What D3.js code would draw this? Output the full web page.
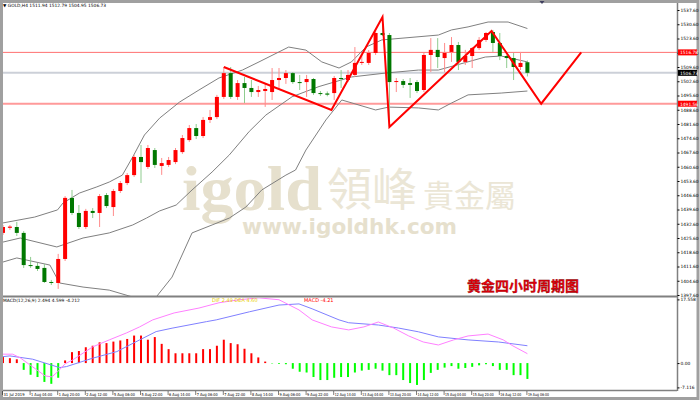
<!DOCTYPE html>
<html><head><meta charset="utf-8">
<script src="https://cdn.jsdelivr.net/npm/d3@7"></script>
<style>html,body{margin:0;padding:0;background:#fff;overflow:hidden}</style>
</head><body><svg id="c" width="700" height="401"></svg>
<script>
// ---------- DATA ----------
const timeLabels = ["31 Jul 2019","1 Aug 04:00","1 Aug 20:00","2 Aug 12:00","5 Aug 06:00","5 Aug 22:00","6 Aug 14:00","7 Aug 06:00","7 Aug 22:00","8 Aug 14:00","9 Aug 06:00","9 Aug 22:00","12 Aug 14:00","13 Aug 04:00","13 Aug 20:00","14 Aug 12:00","15 Aug 04:00","15 Aug 20:00","16 Aug 12:00","19 Aug 06:00"];
const opens = [1428.1,1430.6,1431.0,1428.1,1412.3,1411.9,1410.9,1404.0,1403.5,1415.3,
1445.3,1437.9,1431.0,1438.9,1437.9,1446.7,1440.8,1448.7,1452.6,1456.5,
1465.4,1460.5,1468.8,1461.0,1461.5,1462.9,1467.8,1473.7,1479.6,1475.7,
1483.6,1485.0,1494.9,1506.6,1494.9,1501.7,1499.3,1497.3,1497.8,1497.3,
1503.2,1504.2,1506.6,1502.2,1502.2,1503.7,1496.8,1496.6,1496.8,1504.2,
1503.2,1505.7,1511.6,1511.6,1516.5,1526.3,1525.3,1502.2,1502.7,1501.7,
1502.2,1498.3,1515.5,1518.0,1514.0,1517.0,1520.4,1512.1,1515.0,1518.9,
1522.9,1526.8,1521.4,1515.0,1514.0,1509.6,1511.94];
const highs = [1432.0,1432.0,1433.5,1429.0,1416.3,1413.3,1412.8,1405.0,1417.8,1446.2,
1449.2,1441.8,1439.9,1440.3,1447.2,1447.7,1449.7,1453.6,1457.5,1466.4,
1471.3,1471.3,1469.8,1464.9,1465.4,1469.8,1476.2,1481.1,1481.6,1485.0,
1488.5,1495.9,1509.6,1509.6,1503.2,1504.7,1503.2,1500.3,1501.7,1509.1,
1509.1,1508.1,1507.1,1505.7,1505.7,1504.2,1497.8,1497.6,1505.2,1508.1,
1508.1,1519.4,1515.5,1517.9,1527.8,1534.2,1526.3,1504.2,1503.7,1504.2,
1503.2,1516.5,1523.8,1523.8,1521.4,1524.3,1521.9,1518.0,1519.4,1524.3,
1526.8,1527.8,1526.3,1515.5,1516.5,1517.0,1512.79];
const lows = [1427.1,1429.6,1426.6,1410.9,1410.9,1409.4,1403.5,1402.5,1400.6,1414.3,
1436.9,1430.0,1430.0,1435.4,1431.0,1440.3,1436.4,1447.7,1451.6,1455.6,
1452.6,1459.5,1460.0,1456.6,1460.5,1461.9,1466.9,1472.8,1474.2,1474.7,
1482.1,1484.0,1493.9,1493.9,1493.4,1491.9,1494.9,1494.9,1490.0,1493.4,
1498.3,1501.3,1501.3,1498.3,1494.9,1495.9,1495.4,1495.2,1493.4,1499.3,
1502.2,1504.7,1510.6,1510.6,1515.5,1524.8,1480.1,1497.3,1499.3,1494.4,
1496.8,1497.3,1507.1,1509.1,1507.1,1512.1,1508.1,1510.6,1509.1,1518.0,
1521.9,1517.0,1513.0,1509.1,1503.2,1508.1,1504.95];
const closes = [1431.0,1431.2,1428.1,1412.3,1412.0,1410.4,1404.0,1403.6,1415.3,1445.3,
1437.9,1431.0,1438.9,1437.9,1446.2,1441.3,1448.7,1452.6,1456.5,1465.4,
1462.9,1469.8,1461.5,1462.4,1463.9,1468.8,1474.7,1479.6,1475.7,1483.6,
1485.0,1494.9,1506.6,1494.9,1501.7,1499.3,1497.3,1498.3,1498.8,1503.2,
1504.2,1506.6,1502.2,1501.7,1503.7,1496.8,1496.3,1496.0,1504.2,1503.7,
1505.7,1511.6,1512.1,1516.5,1526.3,1525.3,1502.2,1502.7,1500.8,1500.8,
1497.8,1515.5,1518.0,1514.5,1516.5,1520.4,1512.1,1515.0,1518.9,1522.9,
1526.3,1521.4,1515.0,1514.0,1509.6,1511.6,1506.73];
// Bollinger bands: [bar index, price]
const bbUpper = [[0,1433.0],[4.6,1435.9],[7.9,1439.4],[8.7,1442.8],[11.1,1447.7],[13.6,1450.7],[15.4,1453.1],[17.3,1456.5],[18.8,1465.4],[20.5,1476.2],[22.7,1484.5],[25.6,1492.4],[28.4,1498.3],[31.3,1504.2],[34.7,1508.1],[37.1,1512.1],[41.4,1519.4],[43.9,1517.9],[46.2,1512.1],[48.7,1509.1],[50.5,1512.1],[52.6,1519.4],[54.9,1522.9],[63.1,1525.3],[65,1527.8],[67.4,1529.3],[70.3,1531.7],[73.2,1531.7],[76,1528.5]];
const bbMiddle = [[0,1423.6],[2.5,1425.6],[7.8,1421.2],[11.6,1425.6],[15.4,1428.1],[18.8,1432.0],[20.8,1435.4],[22.7,1438.9],[25.1,1441.8],[27.4,1449.2],[30.3,1458.0],[32.8,1466.4],[35.7,1478.0],[38.1,1486.0],[41.9,1495.0],[45.8,1500.0],[50.5,1504.7],[55.4,1506.6],[60.2,1508.1],[63.1,1508.1],[69.9,1514.5],[72.2,1515.0],[76,1512.1]];
const bbLower = [[0,1413.8],[2,1415.8],[6.8,1412.3],[8.2,1403.5],[11.6,1401.5],[15.4,1400.0],[18.8,1396.6],[20.5,1394.2],[22.2,1396.6],[24.5,1406.4],[27.4,1428.1],[30.3,1432.0],[32.8,1435.4],[35.2,1440.8],[37.5,1449.2],[41,1456.5],[42.4,1459.0],[43.9,1468.8],[46.8,1483.6],[49.1,1493.4],[54,1488.5],[55.9,1489.9],[60.2,1489.5],[63.1,1488.5],[65,1491.9],[67.4,1495.9],[72.2,1496.8],[76,1497.8]];
// zigzag / hand drawn wave lines: [bar index, price]
const waveLine = [[32,1509.6],[47.6,1488.5],[55,1534.2],[56,1480.1],[70.8,1527.3],[78,1491.56],[83.8,1516.78]];
const levels = [1516.78, 1506.73, 1491.56];
const priceTicks = d3.range(0,21).map(k => 1537.6 - 7*k);
// MACD
const macdHist = [1.6,1.3,1.0,-1.8,-3.1,-3.7,-5.0,-5.5,-3.9,0.7,
2.9,3.2,4.2,4.6,5.5,5.3,5.7,6.0,6.4,7.3,
7.3,6.2,6.9,5.1,3.7,2.6,2.6,2.6,2.6,3.7,
3.7,4.6,6.2,5.3,5.0,3.8,2.6,1.5,0.4,-0.1,
-0.2,-0.3,-1.5,-2.3,-2.5,-3.7,-4.5,-4.5,-3.9,-3.7,
-3.7,-2.5,-2.0,-1.8,-1.5,-2.0,-3.2,-3.2,-4.5,-5.3,
-5.8,-4.5,-2.6,-1.8,-1.2,-0.8,-1.5,-1.3,-1.0,-0.6,
-0.3,-0.8,-1.8,-1.8,-3.2,-3.2,-4.21];
const macdDif = [[0,2.36],[1.4,2.36],[2.5,1.38],[4.3,-1.0],[6.1,-3.4],[7.1,-3.66],[7.9,-2.33],[9,-0.2],[10.1,0.85],[13,4.3],[15.4,6.15],[17.9,8.0],[19.8,9.6],[21.7,11.46],[24.8,13.3],[28.4,14.6],[31.3,16.0],[34.2,16.8],[37.1,17.3],[40,16.8],[42.9,14.1],[44.8,11.46],[47.6,9.6],[50.1,8.8],[52.3,9.6],[54.4,10.9],[56.6,9.3],[58.8,7.2],[60.9,5.6],[63.1,4.8],[65.3,6.15],[67.4,7.2],[70.3,7.7],[72.5,6.15],[73.9,4.56],[76,2.494]];
const macdDea = [[0,1.72],[1,1.9],[4.3,1.03],[8.2,-1.2],[9.2,-0.93],[13,1.3],[16.5,3.05],[19.8,6.15],[22.2,8.36],[24.5,9.26],[29.5,11.0],[30.9,11.46],[35.7,13.6],[40,15.4],[42.9,15.7],[44.8,14.4],[48.7,11.46],[50.1,10.7],[54.4,10.1],[57.3,9.3],[60.2,8.3],[63.1,6.95],[67.4,6.15],[71.8,5.6],[76,4.599]];
const macdTicks = [17.558, 0, -7.116];

// ---------- LAYOUT ----------
const svg = d3.select("#c");
const L = 3, R = 677, T = 3, MB = 296, ST = 297, SB = 390;
const x = d3.scaleLinear().domain([0, 76]).range([3, 527.4]);
const y = d3.scaleLinear().domain([1397.6, 1537.6]).range([295, 10]);
const ym = d3.scaleLinear().domain([-7.116, 17.558]).range([389.9, 296.9]);

svg.append("rect").attr("width",700).attr("height",401).attr("fill","#fff");

const defs = svg.append("defs");
defs.append("clipPath").attr("id","cm").append("rect").attr("x",L).attr("y",T).attr("width",R-L).attr("height",MB-T);
defs.append("clipPath").attr("id","cs").append("rect").attr("x",L).attr("y",ST+1).attr("width",R-L).attr("height",SB-ST-1);

// watermark
const wm = svg.append("g").attr("fill","#e6e0cd");
wm.append("text").attr("x",182).attr("y",210).attr("font-family","Liberation Serif").attr("font-weight","bold").attr("font-size",64).attr("textLength",140).attr("lengthAdjust","spacingAndGlyphs").text("igold");
wm.append("text").attr("x",327).attr("y",206).attr("font-family","Noto Sans CJK TC").attr("font-size",45).attr("fill","#ebe6d6").text("領峰");
wm.append("text").attr("x",423).attr("y",207).attr("font-family","Noto Sans CJK TC").attr("font-size",31).attr("fill","#ebe6d6").text("貴金屬");
wm.append("text").attr("x",242).attr("y",234).attr("font-family","DejaVu Sans").attr("font-weight","bold").attr("font-size",21).attr("textLength",215).attr("lengthAdjust","spacingAndGlyphs").text("www.igoldhk.com");

const main = svg.append("g").attr("clip-path","url(#cm)");
// horizontal level lines
main.append("line").attr("x1",L).attr("x2",R).attr("y1",y(levels[0])).attr("y2",y(levels[0])).attr("stroke","#ff7070").attr("stroke-width",1);
main.append("line").attr("x1",L).attr("x2",R).attr("y1",y(levels[1])).attr("y2",y(levels[1])).attr("stroke","#ccd0d8").attr("stroke-width",2);
main.append("line").attr("x1",L).attr("x2",R).attr("y1",y(levels[2])).attr("y2",y(levels[2])).attr("stroke","#ff9a9a").attr("stroke-width",2);

// bollinger
const bl = d3.line().x(d => x(d[0])).y(d => y(d[1]));
[bbUpper, bbMiddle, bbLower].forEach(b => main.append("path").attr("d", bl(b)).attr("fill","none").attr("stroke","#808080").attr("stroke-width",1));

// candles
const idx = d3.range(opens.length);
const up = i => closes[i] >= opens[i];
main.selectAll("line.wick").data(idx).join("line").attr("class","wick")
  .attr("x1", i => x(i)).attr("x2", i => x(i)).attr("y1", i => y(highs[i])).attr("y2", i => y(lows[i]))
  .attr("stroke", i => up(i) ? "#ff8c8c" : "#8fcc8f").attr("stroke-width",1);
main.selectAll("rect.body").data(idx).join("rect").attr("class","body")
  .attr("x", i => x(i) - 2).attr("width", 4)
  .attr("y", i => y(Math.max(opens[i], closes[i])))
  .attr("height", i => Math.max(1, Math.abs(y(opens[i]) - y(closes[i]))))
  .attr("fill", i => up(i) ? "#ff0000" : "#007800");

// wave lines
main.append("path").attr("d", bl(waveLine)).attr("fill","none").attr("stroke","#ff0000").attr("stroke-width",2);

// title
svg.append("text").attr("x",467).attr("y",291).attr("font-family","Noto Sans CJK SC").attr("font-weight","bold").attr("font-size",14)
  .attr("fill","#e8000b").attr("stroke","#7a0000").attr("stroke-width",0.3).text("黄金四小时周期图");

// MACD
const sub = svg.append("g").attr("clip-path","url(#cs)");
sub.selectAll("rect.h").data(idx).join("rect").attr("class","h")
  .attr("x", i => x(i) - 1).attr("width", 2)
  .attr("y", i => Math.min(ym(0), ym(macdHist[i])))
  .attr("height", i => Math.abs(ym(macdHist[i]) - ym(0)))
  .attr("fill", i => macdHist[i] >= 0 ? "#ff0000" : "#00ff00");
const ml = d3.line().x(d => x(d[0])).y(d => ym(d[1]));
sub.append("path").attr("d", ml(macdDea)).attr("fill","none").attr("stroke","#8080ff").attr("stroke-width",1);
sub.append("path").attr("d", ml(macdDif)).attr("fill","none").attr("stroke","#ff80ff").attr("stroke-width",1);

// frames
svg.append("rect").attr("x",1.5).attr("y",1.5).attr("width",696.5).attr("height",397).attr("fill","none").attr("stroke","#a0a0a0").attr("stroke-width",3);
svg.append("line").attr("x1",L).attr("x2",R).attr("y1",296.5).attr("y2",296.5).attr("stroke","#808080").attr("stroke-width",2);
svg.append("line").attr("x1",L).attr("x2",R).attr("y1",390.5).attr("y2",390.5).attr("stroke","#808080").attr("stroke-width",1.5);
svg.append("line").attr("x1",R+0.5).attr("x2",R+0.5).attr("y1",T).attr("y2",391).attr("stroke","#808080").attr("stroke-width",1.5);

// right price axis
const ax = svg.append("g").attr("transform",`translate(${R+0.5},0)`)
  .call(d3.axisRight(y).tickValues(priceTicks).tickFormat(d3.format(".2f")).tickSize(2).tickPadding(1));
ax.select(".domain").remove();
ax.selectAll("text").attr("font-size",4.4).attr("font-family","DejaVu Sans").attr("fill","#000");
ax.selectAll("line").attr("stroke","#000");
// level labels
const lvColors = ["#ff0000","#000000","#ff0000"];
levels.forEach((v,k) => {
  const g = svg.append("g").attr("transform",`translate(${R+1},${y(v)})`);
  g.append("rect").attr("x",0).attr("y",-3).attr("width",19).attr("height",6).attr("fill",lvColors[k]);
  g.append("text").attr("x",2).attr("y",1.8).attr("font-size",4.4).attr("font-family","DejaVu Sans").attr("fill","#fff").text(v.toFixed(2));
});
// macd axis
const mx = svg.append("g").attr("transform",`translate(${R+0.5},0)`)
  .call(d3.axisRight(ym).tickValues(macdTicks).tickFormat(d => d === 0 ? "0.00" : String(d)).tickSize(2).tickPadding(1));
mx.select(".domain").remove();
mx.selectAll("text").attr("font-size",4.4).attr("font-family","DejaVu Sans").attr("fill","#000");
mx.selectAll(".tick").filter(d => d === 17.558).attr("transform",`translate(0,${ym(17.558)+3})`);
mx.selectAll(".tick").filter(d => d === -7.116).attr("transform",`translate(0,${ym(-7.116)-2})`);

// bottom time axis
const tx = svg.append("g");
timeLabels.forEach((t,k) => {
  const xi = x(k*4);
  tx.append("line").attr("x1",xi-0.5).attr("x2",xi-0.5).attr("y1",391).attr("y2",395).attr("stroke","#000").attr("stroke-width",0.5);
  tx.append("text").attr("x",xi+0.5).attr("y",395.5).attr("font-size",4).attr("font-family","DejaVu Sans")
    .attr("textLength",21).attr("lengthAdjust","spacingAndGlyphs").attr("fill","#000").text(t);
});

// headers
svg.append("text").attr("x",3).attr("y",7).attr("font-size",4.4).attr("font-family","DejaVu Sans").attr("fill","#000")
  .text("▼ GOLD,H4  1511.94 1512.79 1504.95 1506.73");
svg.append("text").attr("x",3).attr("y",302).attr("font-size",4.4).attr("font-family","DejaVu Sans").attr("fill","#000")
  .text("MACD(12,26,9) 2.494 4.599 -4.212");
svg.append("text").attr("x",212).attr("y",302).attr("font-size",5).attr("font-family","DejaVu Sans").attr("fill","#e8d000").text("DIF 2.49  DEA 4.60");
svg.append("text").attr("x",304).attr("y",302).attr("font-size",5).attr("font-family","DejaVu Sans").attr("fill","#ff0000").text("MACD      -4.21");
svg.append("path").attr("d","M539.5,1 L544.5,1 L542,4 Z").attr("fill","#404060");
</script></body></html>
